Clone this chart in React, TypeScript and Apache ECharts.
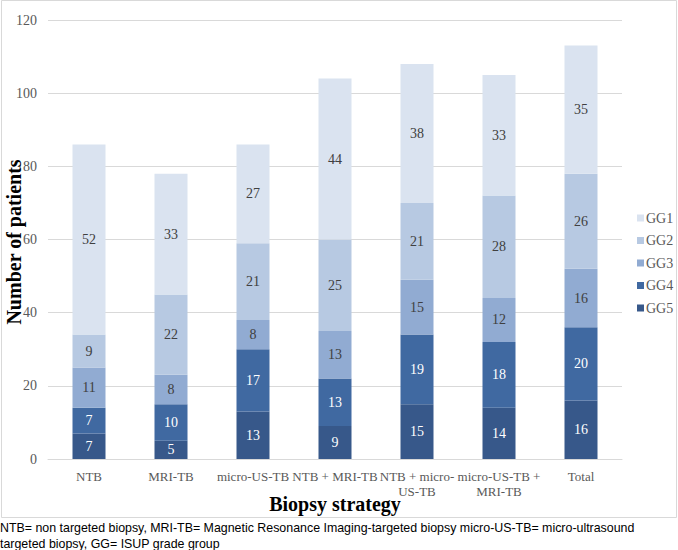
import React, { useEffect, useRef } from "react";
import * as echarts from "echarts";

const categories = [
  "NTB",
  "MRI-TB",
  "micro-US-TB",
  "NTB + MRI-TB",
  "NTB + micro-\nUS-TB",
  "micro-US-TB +\nMRI-TB",
  "Total",
];
const gg5 = [7, 5, 13, 9, 15, 14, 16];
const gg4 = [7, 10, 17, 13, 19, 18, 20];
const gg3 = [11, 8, 8, 13, 15, 12, 16];
const gg2 = [9, 22, 21, 25, 21, 28, 26];
const gg1 = [52, 33, 27, 44, 38, 33, 35];
const yTicks = [0, 20, 40, 60, 80, 100, 120];
const footnote = [
  "NTB= non targeted biopsy, MRI-TB= Magnetic Resonance Imaging-targeted biopsy micro-US-TB= micro-ultrasound",
  "targeted biopsy, GG= ISUP grade group",
];

const SERIF = "Liberation Serif";

export default function App() {
  const ref = useRef<HTMLDivElement>(null);
  useEffect(() => {
    if (!ref.current) return;
    const chart = echarts.init(ref.current, null, { renderer: "svg" });
    const mk = (name: string, data: number[], color: string, labelColor: string) => ({
      name,
      type: "bar",
      stack: "total",
      data,
      barWidth: 33,
      itemStyle: { color },
      label: {
        show: true,
        position: "inside",
        color: labelColor,
        fontFamily: SERIF,
        fontSize: 14,
      },
    });
    chart.setOption({
      animation: false,
      backgroundColor: "#ffffff",
      textStyle: { fontFamily: SERIF },
      grid: { left: 48, right: 56, top: 20, bottom: 91 },
      legend: {
        orient: "vertical",
        left: 632,
        top: 206,
        itemWidth: 7,
        itemHeight: 7,
        itemGap: 8.5,
        icon: "rect",
        data: ["GG1", "GG2", "GG3", "GG4", "GG5"],
        textStyle: { fontFamily: SERIF, fontSize: 14, color: "#595959", lineHeight: 14, padding: [0, 0, 0, -3] },
      },
      xAxis: {
        type: "category",
        data: categories,
        axisLine: { lineStyle: { color: "#d9d9d9" } },
        axisTick: { show: false },
        axisLabel: {
          color: "#595959",
          fontFamily: SERIF,
          fontSize: 13,
          margin: 10,
          lineHeight: 15,
          interval: 0,
        },
      },
      yAxis: {
        type: "value",
        min: 0,
        max: yTicks[yTicks.length - 1],
        interval: 20,
        axisLine: { show: false },
        axisTick: { show: false },
        splitLine: { lineStyle: { color: "#d9d9d9" } },
        axisLabel: { color: "#595959", fontFamily: SERIF, fontSize: 14, margin: 11 },
      },
      graphic: [
        {
          type: "rect",
          shape: { x: 1.5, y: 0.5, width: 675, height: 517 },
          style: { fill: "none", stroke: "#d9d9d9", lineWidth: 1 },
          silent: true,
        },
        {
          type: "text",
          x: 335,
          y: 504,
          style: {
            text: "Biopsy strategy",
            fontFamily: SERIF,
            fontWeight: "bold",
            fontSize: 20,
            fill: "#000",
            align: "center",
            verticalAlign: "middle",
          },
        },
        {
          type: "text",
          x: 14,
          y: 242,
          rotation: Math.PI / 2,
          style: {
            text: "Number of patients",
            fontFamily: SERIF,
            fontWeight: "bold",
            fontSize: 20,
            fill: "#000",
            align: "center",
            verticalAlign: "middle",
          },
        },
        ...footnote.map((t, i) => ({
          type: "text",
          x: 0,
          y: 528 + i * 15.5,
          style: {
            text: t,
            fontFamily: "Liberation Sans",
            fontSize: 12.4,
            fill: "#000",
            align: "left",
            verticalAlign: "middle",
          },
        })),
      ],
      series: [
        mk("GG5", gg5, "#37588a", "#ffffff"),
        mk("GG4", gg4, "#4069a1", "#ffffff"),
        mk("GG3", gg3, "#91abd2", "#404040"),
        mk("GG2", gg2, "#b7c9e2", "#404040"),
        mk("GG1", gg1, "#dae3f0", "#404040"),
      ],
    });
    return () => chart.dispose();
  }, []);
  return (
    <div
      ref={ref}
      style={{ position: "fixed", left: 0, top: 0, width: 678, height: 550 }}
    />
  );
}
